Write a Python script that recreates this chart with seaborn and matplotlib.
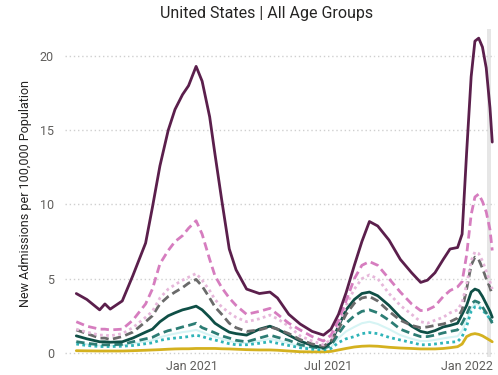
import matplotlib
matplotlib.use("Agg")
import matplotlib.pyplot as plt
import seaborn as sns
import pandas as pd

dates = ["2020-08-01", "2020-08-15", "2020-09-01", "2020-09-08", "2020-09-15", "2020-10-01",
         "2020-10-15", "2020-11-01", "2020-11-10", "2020-11-20", "2020-12-01", "2020-12-10",
         "2020-12-20", "2020-12-28", "2021-01-07", "2021-01-15", "2021-01-25", "2021-02-01",
         "2021-02-10", "2021-02-20", "2021-03-01", "2021-03-15", "2021-04-01", "2021-04-15",
         "2021-04-25", "2021-05-10", "2021-05-25", "2021-06-10", "2021-06-25", "2021-07-05",
         "2021-07-15", "2021-07-25", "2021-08-05", "2021-08-15", "2021-08-25", "2021-09-05",
         "2021-09-20", "2021-10-05", "2021-10-20", "2021-11-01", "2021-11-10", "2021-11-20",
         "2021-12-01", "2021-12-10", "2021-12-20", "2021-12-26", "2022-01-01", "2022-01-07",
         "2022-01-12", "2022-01-17", "2022-01-22", "2022-01-27", "2022-02-01", "2022-02-04"]

age_70_plus = [4.0, 3.6, 2.9, 3.3, 2.95, 3.5, 5.2, 7.4, 9.8, 12.6,
               15.0, 16.4, 17.4, 18.0, 19.3, 18.3, 15.9, 13.4, 10.3, 7.0,
               5.6, 4.3, 4.0, 4.1, 3.7, 2.6, 1.95, 1.45, 1.2, 1.6,
               2.6, 4.05, 5.9, 7.5, 8.85, 8.55, 7.6, 6.3, 5.4, 4.75,
               4.9, 5.4, 6.3, 7.0, 7.1, 8.0, 13.5, 18.6, 21.0, 21.2,
               20.6, 19.2, 16.5, 14.2]
age_60_69 = [2.1, 1.8, 1.6, 1.6, 1.55, 1.6, 2.2, 3.3, 4.3, 6.0,
             6.9, 7.5, 7.9, 8.4, 8.9, 8.0, 6.3, 5.2, 4.4, 3.7,
             3.2, 2.6, 2.8, 3.0, 2.6, 2.0, 1.55, 1.1, 0.8, 1.2,
             2.2, 3.5, 5.0, 5.9, 6.15, 5.9, 5.0, 4.1, 3.3, 2.85,
             2.9, 3.15, 3.8, 4.2, 4.45, 4.8, 6.6, 9.3, 10.5, 10.7,
             10.2, 9.5, 8.3, 6.9]
age_50_59 = [1.6, 1.4, 1.2, 1.2, 1.15, 1.3, 1.7, 2.4, 2.8, 3.7,
             4.3, 4.6, 4.9, 5.1, 5.35, 4.9, 4.2, 3.6, 3.1, 2.7,
             2.4, 2.1, 2.3, 2.55, 2.3, 1.8, 1.15, 0.8, 0.55, 0.9,
             1.9, 3.2, 4.3, 5.0, 5.25, 5.0, 4.0, 3.2, 2.6, 2.1,
             2.0, 2.2, 2.4, 2.7, 2.9, 3.4, 4.6, 6.2, 6.8, 6.7,
             6.2, 5.5, 4.8, 4.3]
age_40_49 = [1.55, 1.3, 1.0, 1.0, 0.9, 1.1, 1.4, 2.1, 2.5, 3.3,
             3.8, 4.1, 4.4, 4.7, 4.95, 4.5, 3.7, 3.1, 2.6, 2.0,
             1.7, 1.45, 1.55, 1.75, 1.6, 1.3, 0.9, 0.6, 0.45, 0.8,
             1.6, 2.6, 3.35, 3.7, 3.8, 3.5, 2.8, 2.2, 1.85, 1.7,
             1.75, 1.85, 1.95, 2.1, 2.35, 2.9, 4.3, 5.9, 6.45, 6.3,
             5.7, 5.0, 4.4, 3.9]
age_30_39 = [1.15, 0.95, 0.75, 0.75, 0.72, 0.75, 1.0, 1.4, 1.6, 2.1,
             2.5, 2.7, 2.9, 3.0, 3.15, 2.9, 2.4, 2.0, 1.7, 1.4,
             1.3, 1.2, 1.6, 1.8, 1.6, 1.2, 0.8, 0.5, 0.35, 0.7,
             1.8, 2.9, 3.6, 4.0, 4.1, 3.85, 3.2, 2.4, 1.8, 1.45,
             1.35, 1.5, 1.75, 1.85, 2.0, 2.6, 3.2, 4.1, 4.3, 4.2,
             3.8, 3.3, 2.8, 2.4]
age_18_29 = [0.76, 0.65, 0.55, 0.55, 0.55, 0.58, 0.75, 0.95, 1.05, 1.3,
             1.5, 1.6, 1.75, 1.85, 2.0, 1.7, 1.5, 1.35, 1.15, 1.0,
             0.85, 0.75, 1.0, 1.2, 1.05, 0.85, 0.55, 0.4, 0.3, 0.5,
             1.3, 2.0, 2.5, 2.8, 2.9, 2.7, 2.2, 1.6, 1.3, 1.1,
             1.1, 1.2, 1.35, 1.45, 1.55, 2.0, 2.6, 3.3, 3.5, 3.4,
             3.1, 2.7, 2.3, 2.0]
age_12_17 = [0.7, 0.58, 0.5, 0.5, 0.5, 0.52, 0.62, 0.78, 0.85, 1.05,
             1.2, 1.3, 1.4, 1.45, 1.55, 1.4, 1.2, 1.1, 0.95, 0.8,
             0.7, 0.65, 0.8, 0.95, 0.85, 0.65, 0.45, 0.32, 0.25, 0.4,
             1.0, 1.45, 1.75, 2.0, 2.1, 1.95, 1.6, 1.2, 0.95, 0.8,
             0.8, 0.88, 0.98, 1.05, 1.12, 1.5, 2.2, 3.0, 3.3, 3.25,
             3.0, 2.65, 2.3, 2.05]
age_5_11 = [0.6, 0.5, 0.43, 0.43, 0.43, 0.45, 0.5, 0.62, 0.68, 0.85,
            0.95, 1.0, 1.05, 1.1, 1.2, 1.1, 0.95, 0.87, 0.75, 0.62,
            0.55, 0.55, 0.65, 0.76, 0.65, 0.5, 0.35, 0.25, 0.2, 0.3,
            0.7, 0.95, 1.1, 1.3, 1.37, 1.3, 1.05, 0.87, 0.7, 0.55,
            0.55, 0.6, 0.67, 0.72, 0.76, 1.1, 1.8, 2.8, 3.1, 3.1,
            2.9, 2.6, 2.3, 2.1]
age_0_4 = [0.15, 0.14, 0.13, 0.13, 0.13, 0.13, 0.15, 0.18, 0.2, 0.22,
           0.25, 0.27, 0.28, 0.28, 0.3, 0.3, 0.3, 0.3, 0.28, 0.27,
           0.25, 0.22, 0.2, 0.2, 0.18, 0.13, 0.08, 0.07, 0.07, 0.1,
           0.2, 0.3, 0.4, 0.45, 0.47, 0.45, 0.38, 0.33, 0.3, 0.27,
           0.27, 0.27, 0.3, 0.35, 0.42, 0.6, 1.1, 1.25, 1.3, 1.25,
           1.15, 1.0, 0.85, 0.75]

tick_dates = ["2021-01-01", "2021-07-01", "2022-01-01"]
tick_labels = ["Jan 2021", "Jul 2021", "Jan 2022"]
y_ticks = [0, 5, 10, 15, 20]

series = [
    (age_12_17, "#d6f4f4", "-", 1.5),
    (age_0_4, "#d4b11f", "-", 2.0),
    (age_5_11, "#2fb4b8", (0, (1.0, 1.2)), 2.0),
    (age_18_29, "#2c7d74", (0, (3.0, 1.6)), 2.0),
    (age_30_39, "#0f4f46", "-", 2.0),
    (age_40_49, "#6a6a6a", (0, (3.0, 1.6)), 2.0),
    (age_50_59, "#e6b7da", (0, (1.0, 1.2)), 2.0),
    (age_60_69, "#d67dbf", (0, (3.0, 1.6)), 2.0),
    (age_70_plus, "#5b1f4c", "-", 2.0),
]

sns.set_theme(style="white")
plt.rcParams["font.family"] = ["Roboto", "DejaVu Sans"]

fig = plt.figure(figsize=(4.98, 3.75), dpi=100)
ax = fig.add_axes([0.1305, 0.047, 0.864, 0.875])

x = pd.to_datetime(dates)
for vals, color, ls, lw in series:
    sns.lineplot(x=x, y=vals, ax=ax, color=color, linestyle=ls, linewidth=lw)

ax.axvspan(pd.Timestamp("2022-01-28"), pd.Timestamp("2022-02-03"), color="#e6e6e6", zorder=0, lw=0)

ax.set_xlim(pd.Timestamp("2020-07-17"), pd.Timestamp("2022-02-08"))
ax.set_ylim(-0.3, 21.8)
ax.set_yticks(y_ticks)
ax.set_yticklabels([str(v) for v in y_ticks])
ax.set_xticks(pd.to_datetime(tick_dates))
ax.set_xticklabels(tick_labels)
ax.tick_params(axis="both", length=0, labelsize=9, labelcolor="#605e5c")
ax.tick_params(axis="y", pad=8)
ax.tick_params(axis="x", pad=2)
ax.yaxis.grid(True, linestyle=(0, (1, 2)), color="#cfcfcf", linewidth=1)
ax.xaxis.grid(False)
for s in ax.spines.values():
    s.set_visible(False)
ax.set_xlabel("")
ax.set_ylabel("New Admissions per 100,000 Population", fontsize=9, color="#252423")
ax.yaxis.set_label_coords(-0.077, 0.5)
fig.text(0.536, 0.965, "United States | All Age Groups", ha="center", va="center",
         fontsize=11.5, color="#252423")

fig.savefig("out.png", dpi=100)
